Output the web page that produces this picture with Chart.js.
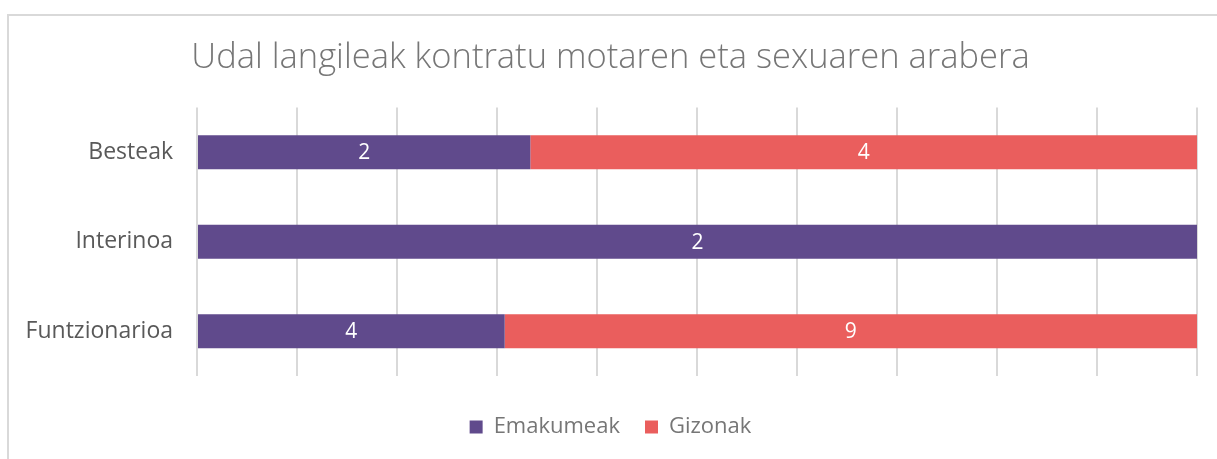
<!DOCTYPE html>
<html>
<head>
<meta charset="utf-8">
<script src="https://cdn.jsdelivr.net/npm/chart.js@4/dist/chart.umd.min.js"></script>
<style>
    html, body { margin: 0; padding: 0; background: #fff; }
    #frame {
        position: absolute; left: 7px; top: 14px;
        width: 1220px; height: 460px;
        border: 2px solid #d9d9d9; box-sizing: border-box;
    }
    #wrap { position: absolute; left: 0; top: 0; width: 1217px; height: 459px; }
</style>
</head>
<body>
<div id="frame"></div>
<div id="wrap"><canvas id="chart"></canvas></div>
<script>
'use strict';

const TITLE = 'Udal langileak kontratu motaren eta sexuaren arabera';
const categories = ['Besteak', 'Interinoa', 'Funtzionarioa'];
const seriesNames = ['Emakumeak', 'Gizonak'];
const emakumeak = [2, 2, 4];
const gizonak = [4, 0, 9];
const seriesColors = ['#604a8c', '#ea5e5d'];
const FONT = "'Open Sans', sans-serif";

// 100% stacked: share of each row total
function toPercent(values, other) {
    return values.map((v, i) => 100 * v / (v + other[i]));
}

const counts = [emakumeak, gizonak];

const barLabels = {
    id: 'barLabels',
    afterDatasetsDraw(chart) {
        const ctx = chart.ctx;
        ctx.save();
        ctx.fillStyle = '#ffffff';
        ctx.font = '21px ' + FONT;
        ctx.textAlign = 'center';
        ctx.textBaseline = 'middle';
        chart.data.datasets.forEach((ds, di) => {
            const meta = chart.getDatasetMeta(di);
            meta.data.forEach((bar, i) => {
                const v = counts[di][i];
                if (!v) return;
                const p = bar.getProps(['x', 'y', 'base'], true);
                ctx.fillText(String(v), (p.x + p.base) / 2, p.y + 1);
            });
        });
        ctx.restore();
    }
};

new Chart(document.getElementById('chart'), {
    type: 'bar',
    data: {
        labels: categories,
        datasets: [
            {
                label: seriesNames[0],
                data: toPercent(emakumeak, gizonak),
                backgroundColor: seriesColors[0],
                borderWidth: 0,
                categoryPercentage: 1,
                barPercentage: 0.38
            },
            {
                label: seriesNames[1],
                data: toPercent(gizonak, emakumeak),
                backgroundColor: seriesColors[1],
                borderWidth: 0,
                categoryPercentage: 1,
                barPercentage: 0.38
            }
        ]
    },
    options: {
        indexAxis: 'y',
        responsive: true,
        maintainAspectRatio: false,
        animation: false,
        layout: { padding: { left: 24, right: 20, top: 0, bottom: 11 } },
        scales: {
            x: {
                stacked: true,
                min: 0,
                max: 100,
                afterFit(scale) { scale.height = 15; },
                ticks: { display: false, stepSize: 10 },
                border: { display: false },
                grid: { color: '#d9d9d9', lineWidth: 2, drawTicks: false }
            },
            y: {
                stacked: true,
                afterFit(scale) { scale.width = 173; },
                border: { display: false },
                grid: { display: false, drawTicks: false },
                ticks: { color: '#595959', padding: 24, font: { family: FONT, size: 23 } }
            }
        },
        plugins: {
            title: {
                display: true,
                text: TITLE,
                color: '#767676',
                font: { family: FONT, size: 34.5, weight: 300 },
                padding: { top: 37, bottom: 29 }
            },
            legend: {
                position: 'bottom',
                labels: {
                    color: '#767676',
                    boxWidth: 13,
                    boxHeight: 13,
                    padding: 25,
                    font: { family: FONT, size: 22 }
                }
            },
            tooltip: { enabled: false }
        }
    },
    plugins: [barLabels]
});
</script>
</body>
</html>
